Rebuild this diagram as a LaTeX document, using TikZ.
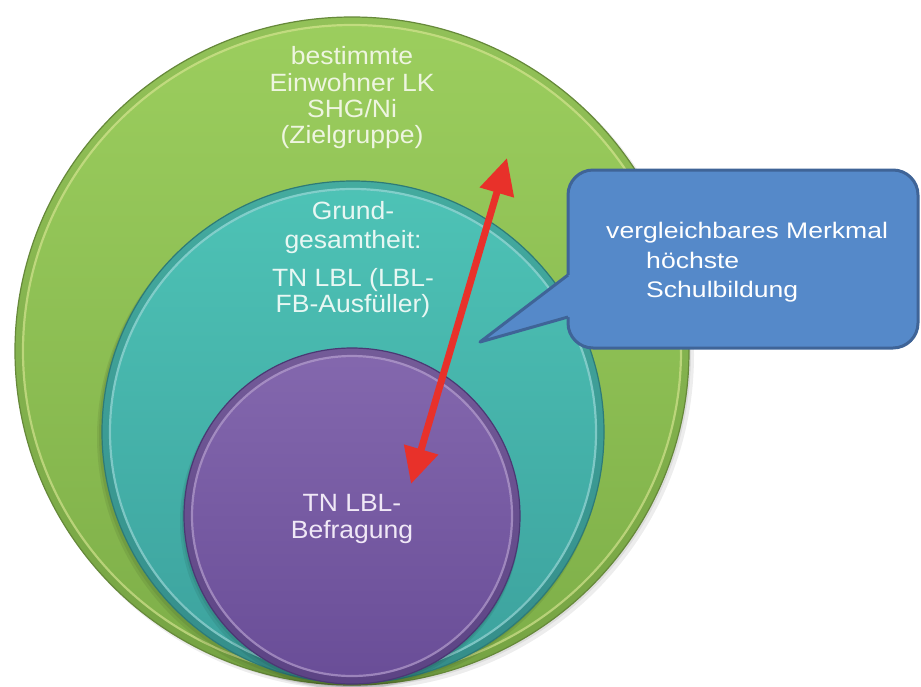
\documentclass[tikz,border=0pt]{standalone}
\usepackage{fontspec}
\setmainfont{Liberation Sans}
\usetikzlibrary{arrows.meta}
\definecolor{grtop}{HTML}{9CCE5E}
\definecolor{grbot}{HTML}{7DAE48}
\definecolor{grrim}{HTML}{E2EE9A}
\definecolor{grline}{HTML}{66893A}
\definecolor{tetop}{HTML}{4EC3B6}
\definecolor{tebot}{HTML}{3CA19D}
\definecolor{terim}{HTML}{ABE8E8}
\definecolor{teline}{HTML}{2D7B78}
\definecolor{putop}{HTML}{8468AE}
\definecolor{pubot}{HTML}{694D97}
\definecolor{purim}{HTML}{C6AFDF}
\definecolor{puline}{HTML}{4B3874}
\definecolor{cfill}{HTML}{5589C9}
\definecolor{cline}{HTML}{3F6497}
\definecolor{arred}{HTML}{E8312A}
\definecolor{grtext}{HTML}{EEF5E0}
\definecolor{tetext}{HTML}{E8F7F3}
\definecolor{putext}{HTML}{F0E8F6}
\begin{document}
\begin{tikzpicture}[x=1pt,y=-1pt,
  lbl/.style={anchor=base, font=\fontsize{25}{30}\selectfont, xscale=1.06, inner sep=0pt},
  clbl/.style={anchor=base west, font=\fontsize{22.5}{27}\selectfont, xscale=1.18, inner sep=0pt, text=white},
  shadowdisc/.style={fill=black, opacity=0.07},
  rimline/.style={line width=2.2pt, opacity=0.6},
  bevel/.style={line width=9pt, opacity=0.12, draw=black},
  callbox/.style={draw=cline, fill=cfill, line width=3pt, rounded corners=25pt,
    minimum width=350pt, minimum height=178pt, inner sep=0pt},
  redarrow/.style={draw=arred, line width=7pt,
    {Triangle[length=36pt,width=34pt]}-{Triangle[length=36pt,width=34pt]}}
]
\fill[white] (0,0) rectangle (921,686);
\useasboundingbox (0,0) rectangle (921,686);
\clip (0,0) rectangle (921,686);

% green disc
\fill[shadowdisc] (356,355) ellipse [x radius=338pt, y radius=335pt];
\fill[shadowdisc] (354,353) ellipse [x radius=337pt, y radius=334pt];
\shade[top color=grtop, bottom color=grbot] (352,351) ellipse [x radius=337pt, y radius=334pt];
\draw[bevel, opacity=0.06] (352,351) ellipse [x radius=332.5pt, y radius=329.5pt];
\draw[grrim, rimline] (352,351) ellipse [x radius=329pt, y radius=326pt];
\draw[grline, line width=1.2pt] (352,351) ellipse [x radius=337pt, y radius=334pt];

% teal disc
\fill[shadowdisc] (350,437) ellipse [x radius=253pt, y radius=252pt];
\fill[shadowdisc] (351,435) ellipse [x radius=252pt, y radius=251pt];
\shade[top color=tetop, bottom color=tebot] (353,432) ellipse [x radius=251pt, y radius=251pt];
\draw[bevel] (353,432) ellipse [x radius=246.5pt, y radius=246.5pt];
\draw[terim, rimline] (353,432) ellipse [x radius=243pt, y radius=243pt];
\draw[teline, line width=1.2pt] (353,432) ellipse [x radius=251pt, y radius=251pt];

% purple disc
\fill[shadowdisc] (350,521) ellipse [x radius=170pt, y radius=169pt];
\fill[shadowdisc] (351,519) ellipse [x radius=169pt, y radius=168pt];
\shade[top color=putop, bottom color=pubot] (352,516) ellipse [x radius=168pt, y radius=168pt];
\draw[bevel] (352,516) ellipse [x radius=163.5pt, y radius=163.5pt];
\draw[purim, rimline] (352,516) ellipse [x radius=160pt, y radius=160pt];
\draw[puline, line width=1.2pt] (352,516) ellipse [x radius=168pt, y radius=168pt];

% texts in discs
\node[lbl, text=grtext] (g1) at (352,64) {bestimmte};
\node[lbl, text=grtext] (g2) at (352,91) {Einwohner LK};
\node[lbl, text=grtext] (g3) at (352,117) {SHG/Ni};
\node[lbl, text=grtext] (g4) at (352,143) {(Zielgruppe)};

\node[lbl, text=tetext] (t1) at (353,219) {Grund-};
\node[lbl, text=tetext] (t2) at (353,248) {gesamtheit:};
\node[lbl, text=tetext] (t3) at (353,286) {TN LBL (LBL-};
\node[lbl, text=tetext] (t4) at (353,312) {FB-Ausfüller)};

\node[lbl, text=putext] (p1) at (352,511) {TN LBL-};
\node[lbl, text=putext] (p2) at (352,538) {Befragung};

% red double arrow
\coordinate (atop) at (507,158);
\coordinate (abot) at (411,484);
\draw[redarrow] (abot) -- (atop);

% callout
\node[callbox] (cbox) at (743,259) {};
\coordinate (pa) at (568,275);
\coordinate (ptip) at (480,342);
\coordinate (pb) at (568,317);
\fill[cfill] (pa) -- (ptip) -- (pb) -- (572,317) -- (572,275) -- cycle;
\draw[cline, line width=3pt, line join=round] (pa) -- (ptip) -- (pb);

\node[clbl] (c1) at (606,238) {vergleichbares Merkmal};
\node[clbl] (c2) at (646,268) {höchste};
\node[clbl] (c3) at (646,297) {Schulbildung};
\end{tikzpicture}
\end{document}
